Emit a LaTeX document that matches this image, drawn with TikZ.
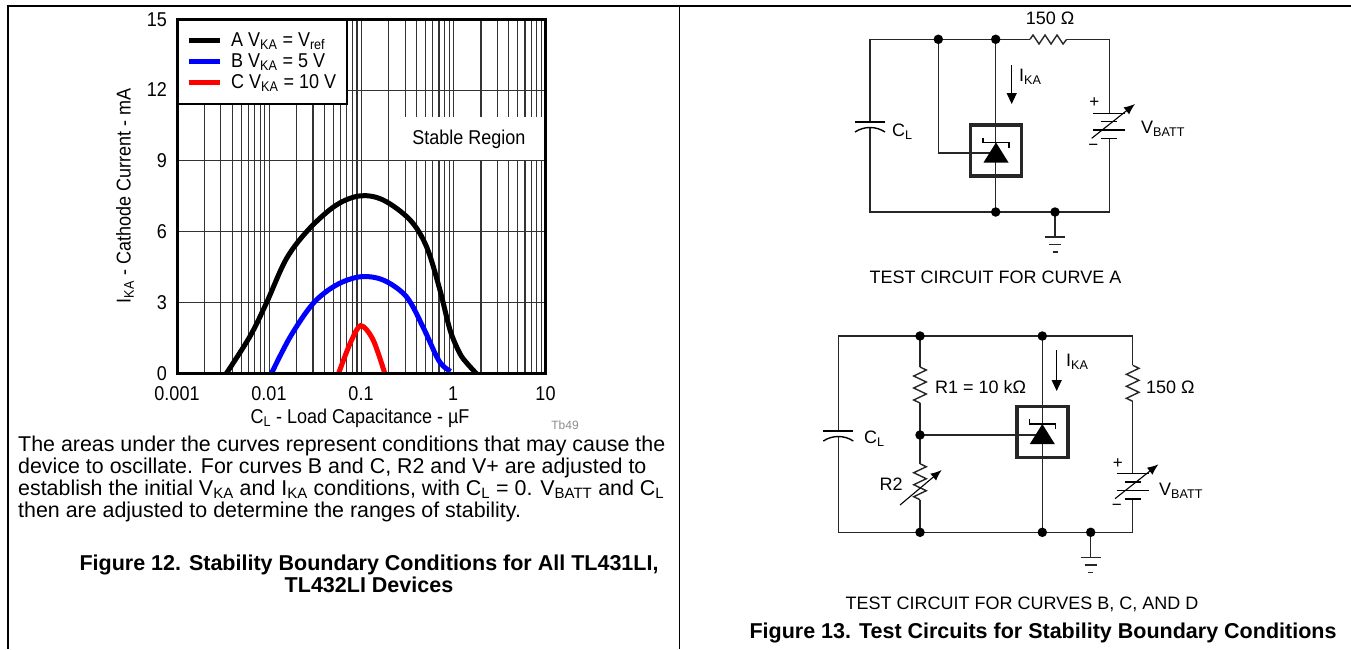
\documentclass[tikz,border=0pt]{standalone}
\usepackage{fontspec}
\setmainfont{Liberation Sans}
\newfontfamily\cnd[FakeStretch=0.9]{Liberation Sans}
\usetikzlibrary{arrows.meta,calc}
\newcommand\fs[1]{\fontsize{#1}{#1}\selectfont}
\begin{document}
\begin{tikzpicture}[x=1pt,y=-1pt,
  wire/.style={line width=1.4pt, black!85},
  jdot/.style={circle, fill=black, inner sep=0pt, minimum size=9.5pt},
  gridl/.style={line width=1.1pt, black!80},
  clbl/.style={inner sep=0pt, font=\cnd\fs{20}},
  plbl/.style={inner sep=0pt, font=\fs{18}},
  tlbl/.style={inner sep=0pt, font=\fs{21.4}, anchor=base west},
  curve/.style={line width=5pt},
  iarrow/.style={line width=1.2pt, -{Triangle[length=11pt,width=10pt]}},
  varrow/.style={line width=1.1pt, -{Latex[length=11pt,width=9pt]}},
  tlbox/.pic={
    \draw[line width=3.5pt, black!85] (-25.5,-25.5) rectangle (25.5,25.5);
    \fill[black] (-12.5,12) -- (12.5,12) -- (0,-8) -- cycle;
    \draw[line width=1.3pt] (-13,-13) -- (-13,-8) -- (13,-8) -- (13,-3);
  },
  capv/.pic={
    \draw[line width=1.4pt] (-15,-3) -- (15,-3);
    \draw[line width=1.4pt] (-15,7) .. controls (-6,1) and (6,1) .. (15,7);
  },
  batt/.pic={
    \draw[line width=1.4pt] (-16,-12.6) -- (16,-12.6);
    \draw[line width=1.4pt] (-8,-4.3) -- (8,-4.3);
    \draw[line width=1.4pt] (-16,4) -- (16,4);
    \draw[line width=1.4pt] (-8,12.5) -- (8,12.5);
    \draw[varrow] (-17.6,12.3) -- (25.7,-22);
    \node[inner sep=0pt, font=\fs{17}] (plus) at (-15,-23) {+};
    \node[inner sep=0pt, font=\fs{17}] (minus) at (-16,21) {−};
  },
  vres/.pic={
    \draw[wire] (0,-18) -- (6.3,-15) -- (-6.3,-9) -- (6.3,-3) -- (-6.3,3) -- (6.3,9) -- (-6.3,15) -- (0,18);
  },
  gnd/.pic={
    \draw[wire] (0,0) -- (0,25);
    \draw[wire] (-10,25) -- (10,25);
    \draw[wire] (-6,32.5) -- (6,32.5);
    \draw[wire] (-2.5,40) -- (2.5,40);
  }
]
\useasboundingbox (0,0) rectangle (1351,649);
% frame lines of the page
\draw[line width=2pt] (8,6) -- (1351,6);
\draw[line width=2pt] (8,5) -- (8,649);
\draw[line width=1.5pt] (679.5,6) -- (679.5,649);

% ---------------- chart ----------------
\foreach \d in {0,1,2,3}{
  \foreach \k in {1,...,9}{
    \pgfmathsetmacro\gx{177+92.1*(\d+log10(\k))}
    \draw[gridl] (\gx,19) -- (\gx,373.3);
  }}
\foreach \m in {3,6,9,12}{
  \draw[gridl] (177,{373.3-23.6*\m}) -- (545.5,{373.3-23.6*\m});
}
\fill[white] (396,117) rectangle (544,160.1);
\node[clbl] (stable) at (469,139) {Stable Region};
\draw[line width=2.2pt, fill=white] (177,19) rectangle (347,104);
\draw[curve, black] (188.6,40) -- (220,40);
\draw[curve, blue] (188.6,61) -- (220,61);
\draw[curve, red] (188.6,82) -- (220,82);
\node[clbl, anchor=west] (legA) at (231,41) {A V\textsubscript{KA} = V\textsubscript{ref}};
\node[clbl, anchor=west] (legB) at (231,62) {B V\textsubscript{KA} = 5 V};
\node[clbl, anchor=west] (legC) at (231,83) {C V\textsubscript{KA} = 10 V};

\begin{scope}[shift={(177,373.3)}, x=92.1pt, y=23.6pt]
\clip (0,0) rectangle (4,15);
\draw[curve, black] plot[smooth, tension=0.55] coordinates {(0.52,-0.1) (0.79,1.55) (0.97,2.97) (1.19,4.87) (1.44,6.14) (1.73,7.13) (1.99,7.52) (2.24,7.34) (2.53,6.50) (2.71,5.36) (2.855,3.53) (2.965,1.83) (3.07,0.85) (3.15,0.42) (3.26,-0.05)};
\draw[curve, blue] plot[smooth, tension=0.55] coordinates {(1.02,-0.05) (1.23,1.55) (1.48,2.97) (1.73,3.74) (1.99,4.09) (2.24,3.95) (2.49,3.25) (2.67,1.97) (2.82,0.70) (2.89,0.31) (2.97,0.08)};
\draw[curve, red] plot[smooth, tension=0.5] coordinates {(1.75,-0.05) (1.88,1.27) (1.995,2.02) (2.13,1.41) (2.26,-0.05)};
\end{scope}
\draw[line width=3pt] (177,19) rectangle (545.5,373.3);

% tick labels
\foreach \v/\yy in {15/19.3,12/90,9/160.9,6/231.7,3/302.5,0/373.3}{
  \node[clbl, anchor=east] (yt\v) at (167,\yy) {\v};
}
\node[clbl] (xt1) at (177,394) {0.001};
\node[clbl] (xt2) at (269,394) {0.01};
\node[clbl] (xt3) at (361,394) {0.1};
\node[clbl] (xt4) at (453,394) {1};
\node[clbl] (xt5) at (545.5,394) {10};
\node[clbl, rotate=90] (ylab) at (125,196) {I\textsubscript{KA} - Cathode Current - mA};
\node[clbl] (xlab) at (360,418) {C\textsubscript{L} - Load Capacitance - µF};
\node[inner sep=0pt, font=\fs{12}, text=black!45] (tag) at (565,425) {Tb49};

% body text
\node[tlbl] (t1) at (18,451) {The areas under the curves represent conditions that may cause the};
\node[tlbl] (t2) at (18,473) {device to oscillate. For curves B and C, R2 and V+ are adjusted to};
\node[tlbl] (t3) at (18,495) {establish the initial V\textsubscript{KA} and I\textsubscript{KA} conditions, with C\textsubscript{L} = 0. V\textsubscript{BATT} and C\textsubscript{L}};
\node[tlbl] (t4) at (18,517) {then are adjusted to determine the ranges of stability.};
\node[inner sep=0pt, font=\bfseries\fontsize{21.5}{21.5}\selectfont, align=center] (cap12) at (369,574) {Figure 12. Stability Boundary Conditions for All TL431LI,\\TL432LI Devices};

% ---------------- circuit A ----------------
\coordinate (aTL) at (870,39.3);
\coordinate (aJ1) at (938.3,39.3);
\coordinate (aJ2) at (995.7,39.3);
\coordinate (aRa) at (1030,39.3);
\coordinate (aRb) at (1066.7,39.3);
\coordinate (aBL) at (870,212);
\coordinate (aJ3) at (995.7,212);
\coordinate (aJ4) at (1055,212);
\coordinate (aC) at (870,125);
\coordinate (aU) at (996,150.5);
\coordinate (aB) at (1109.3,126);
\draw[wire] ($(aC)+(0,-3)$) |- (aRa);
\draw[wire] (aRa) -- (1033,35) -- (1039,44) -- (1045,35) -- (1051,44) -- (1057,35) -- (1063,44) -- (aRb);
\draw[wire] (aRb) -| ($(aB)+(0,-12.6)$);
\draw[wire] ($(aB)+(0,12.5)$) |- (aBL) -- ($(aC)+(0,2.5)$);
\draw[wire] (aJ2) -- (aJ3);
\draw[wire] (aJ1) |- ($(aU)+(0,2.5)$);
\pic at (aU) {tlbox};
\pic at (aC) {capv};
\pic (aBat) at (aB) {batt};
\pic at (aJ4) {gnd};
\node[jdot] (aD1) at (aJ1) {};
\node[jdot] (aD2) at (aJ2) {};
\node[jdot] (aD3) at (aJ3) {};
\node[jdot] (aD4) at (aJ4) {};
\coordinate (aIa) at (1011.7,65);
\coordinate (aIb) at (1011.7,104);
\draw[iarrow] (aIa) -- (aIb);
\node[plbl] (aR150) at (1050,18.3) {150 Ω};
\node[plbl, anchor=west] (aIKA) at (1019,77) {I\textsubscript{KA}};
\node[plbl, anchor=west] (aCL) at (892,132) {C\textsubscript{L}};
\node[plbl, anchor=west] (aVB) at (1141,129) {V\textsubscript{BATT}};
\node[inner sep=0pt, font=\fs{18}] (capA) at (995.5,277) {TEST CIRCUIT FOR CURVE A};

% ---------------- circuit B ----------------
\coordinate (bTL) at (838.3,336);
\coordinate (bJ1) at (920,336);
\coordinate (bJ2) at (1042.3,336);
\coordinate (bTR) at (1132.7,336);
\coordinate (bBL) at (838.3,532.3);
\coordinate (bJ3) at (920,532.3);
\coordinate (bJ4) at (1042.3,532.3);
\coordinate (bJ5) at (1090.7,532.3);
\coordinate (bC) at (838.3,434);
\coordinate (bR1) at (920,385);
\coordinate (bJm) at (920,435);
\coordinate (bR2) at (920,481.7);
\coordinate (bU) at (1042.3,432);
\coordinate (bR3) at (1132.7,383.3);
\coordinate (bB) at (1132.7,486.3);
\draw[wire] ($(bC)+(0,-3)$) |- (bTR) -- ($(bR3)+(0,-18)$);
\draw[wire] ($(bR3)+(0,18)$) -- ($(bB)+(0,-12.6)$);
\draw[wire] ($(bB)+(0,12.5)$) |- (bBL) -- ($(bC)+(0,2.5)$);
\draw[wire] (bJ1) -- ($(bR1)+(0,-18)$);
\draw[wire] ($(bR1)+(0,18)$) -- ($(bR2)+(0,-18)$);
\draw[wire] ($(bR2)+(0,18)$) -- (bJ3);
\draw[wire] (bJm) -- ($(bU)+(0,3)$);
\draw[wire] (bJ2) -- (bJ4);
\pic at (bR1) {vres};
\pic at (bR2) {vres};
\pic at (bR3) {vres};
\draw[varrow] ($(bR2)+(-20,23.3)$) -- ($(bR2)+(21.7,-11.7)$);
\pic at (bU) {tlbox};
\pic at (bC) {capv};
\pic (bBat) at (bB) {batt};
\pic at (bJ5) {gnd};
\node[jdot] (bD1) at (bJ1) {};
\node[jdot] (bD2) at (bJ2) {};
\node[jdot] (bD3) at (bJm) {};
\node[jdot] (bD4) at (bJ3) {};
\node[jdot] (bD5) at (bJ4) {};
\node[jdot] (bD6) at (bJ5) {};
\coordinate (bIa) at (1056.7,350);
\coordinate (bIb) at (1056.7,391);
\draw[iarrow] (bIa) -- (bIb);
\node[plbl, anchor=west] (bR1l) at (935,387) {R1 = 10 kΩ};
\node[plbl, anchor=west] (bIKA) at (1066,362) {I\textsubscript{KA}};
\node[plbl, anchor=west] (bR150) at (1146,387) {150 Ω};
\node[plbl, anchor=west] (bCL) at (864,439) {C\textsubscript{L}};
\node[plbl] (bR2l) at (891,484) {R2};
\node[plbl, anchor=west] (bVB) at (1159,491) {V\textsubscript{BATT}};
\node[inner sep=0pt, font=\fs{18}] (capB) at (1022,604) {TEST CIRCUIT FOR CURVES B, C, AND D};
\node[inner sep=0pt, font=\bfseries\fontsize{21.5}{21.5}\selectfont] (cap13) at (1043,633) {Figure 13. Test Circuits for Stability Boundary Conditions};
\end{tikzpicture}
\end{document}
